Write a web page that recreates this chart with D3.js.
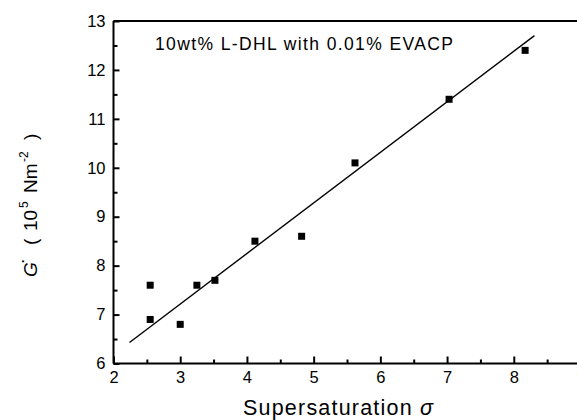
<!DOCTYPE html>
<html><head><meta charset="utf-8">
<script src="https://cdn.jsdelivr.net/npm/d3@7"></script>
<style>body{margin:0;background:#fff}svg{display:block}text{font-family:"Liberation Sans",Arial,sans-serif;fill:#000}</style>
</head><body><svg id="c" width="577" height="420"></svg>
<script>
const sigma = [2.55, 2.55, 3.0, 3.25, 3.52, 4.12, 4.82, 5.62, 7.03, 8.17];
const gValues = [7.6, 6.9, 6.8, 7.6, 7.7, 8.5, 8.6, 10.1, 11.4, 12.4];
const fitX = [2.24, 8.31];
const fitY = [6.43, 12.70];
const xTicks = [2, 3, 4, 5, 6, 7, 8, 9];
const yTicks = [6, 7, 8, 9, 10, 11, 12, 13];
const annotation = "10wt% L-DHL with 0.01% EVACP";

const svg = d3.select("#c");
const L = 113.5, R = 580.5, T = 21, B = 363.5;
const x = d3.scaleLinear().domain([2, 9]).range([L, R]);
const y = d3.scaleLinear().domain([6, 13]).range([B, T]);

// top border
svg.append("line").attr("x1", L).attr("x2", 577).attr("y1", T).attr("y2", T)
  .attr("stroke", "#000").attr("stroke-width", 2);

// bottom axis
const xa = svg.append("g").attr("transform", `translate(0,${B})`)
  .call(d3.axisBottom(x).tickValues(xTicks).tickSize(-7).tickPadding(15).tickFormat(d3.format("d")));
xa.selectAll("text").attr("font-size", 16.5).attr("dy", "0.3em");
svg.append("g").attr("transform", `translate(0,${B})`)
  .call(d3.axisBottom(x).tickValues(d3.range(2.5, 9, 1)).tickSize(-4).tickFormat(""))
  .call(g => g.select(".domain").remove());

// left axis
const ya = svg.append("g").attr("transform", `translate(${L},0)`)
  .call(d3.axisLeft(y).tickValues(yTicks).tickSize(-6).tickPadding(8).tickFormat(d3.format("d")));
ya.selectAll("text").attr("font-size", 16.5);
svg.append("g").attr("transform", `translate(${L},0)`)
  .call(d3.axisLeft(y).tickValues(d3.range(6.5, 13, 1)).tickSize(-4).tickFormat(""))
  .call(g => g.select(".domain").remove());

svg.selectAll(".domain").attr("stroke-width", 2);
xa.select(".domain").attr("d", `M${L},0H577`);
ya.select(".domain").attr("d", `M0,${T}V${B}`);
svg.selectAll(".tick line").attr("stroke-width", 2);

// fit line
svg.append("line")
  .attr("x1", x(fitX[0])).attr("y1", y(fitY[0]))
  .attr("x2", x(fitX[1])).attr("y2", y(fitY[1]))
  .attr("stroke", "#000").attr("stroke-width", 1.4);

// points
const pts = sigma.map((s, i) => [s, gValues[i]]);
svg.selectAll("rect.pt").data(pts).join("rect").attr("class", "pt")
  .attr("x", d => x(d[0]) - 3.5).attr("y", d => y(d[1]) - 3.5)
  .attr("width", 7).attr("height", 7).attr("fill", "#000");

// annotation
svg.append("text").attr("x", 155).attr("y", 50).attr("font-size", 17.5)
  .attr("textLength", 298).attr("lengthAdjust", "spacing").text(annotation);

// x title
const xt = svg.append("text").attr("x", 243).attr("y", 415).attr("font-size", 21.5)
  .attr("textLength", 190).attr("lengthAdjust", "spacing");
xt.append("tspan").text("Supersaturation ");
xt.append("tspan").attr("font-style", "italic").text("σ");

// y title
const yt = svg.append("text").attr("transform", "translate(37,277) rotate(-90)")
  .attr("font-size", 19);
yt.append("tspan").attr("x", 0).attr("font-style", "italic").text("G");
yt.append("tspan").attr("x", 13).attr("y", -13).attr("font-size", 19).text(".");
yt.append("tspan").attr("x", 32).attr("y", 0).text("(");
yt.append("tspan").attr("x", 46).attr("y", 0).text("10");
yt.append("tspan").attr("x", 69).attr("y", -9).attr("font-size", 12).text("5");
yt.append("tspan").attr("x", 84).attr("y", 0).text("Nm");
yt.append("tspan").attr("x", 115).attr("y", -9).attr("font-size", 12).text("-2");
yt.append("tspan").attr("x", 137).attr("y", 0).text(")");
</script></body></html>
